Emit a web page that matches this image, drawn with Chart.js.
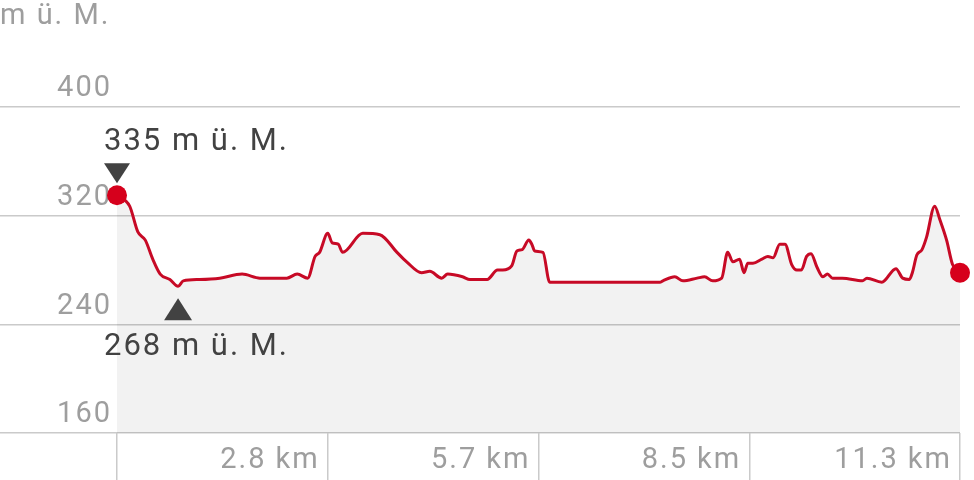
<!DOCTYPE html>
<html>
<head>
<meta charset="utf-8">
<script src="https://cdn.jsdelivr.net/npm/chart.js@4.4.0/dist/chart.umd.min.js"></script>
<style>
  html, body { margin: 0; padding: 0; background: #fff; }
  #profile { display: block; }
</style>
</head>
<body>
<canvas id="profile" width="974" height="480"></canvas>
<script>
// ELEVATION PROFILE DATA (km along the route, metres above sea level)
var distKm = [0, 0.17, 0.28, 0.38, 0.48, 0.58, 0.71, 0.82, 0.89, 1.11, 1.38, 1.68, 1.92, 2.28, 2.42, 2.56, 2.66, 2.72, 2.83, 2.89, 2.97, 3.03, 3.30, 3.53, 3.76, 3.89, 4.09, 4.20, 4.36, 4.44, 4.64, 4.74, 4.97, 5.11, 5.18, 5.30, 5.37, 5.44, 5.53, 5.57, 5.61, 5.72, 5.81, 7.29, 7.33, 7.49, 7.60, 7.79, 7.89, 8.00, 8.12, 8.20, 8.27, 8.36, 8.42, 8.47, 8.54, 8.66, 8.74, 8.81, 8.90, 8.97, 9.06, 9.13, 9.19, 9.26, 9.32, 9.40, 9.48, 9.54, 9.61, 9.74, 10.01, 10.07, 10.27, 10.46, 10.55, 10.64, 10.68, 10.74, 10.81, 10.87, 10.98, 11.05, 11.14, 11.22, 11.32];
var elevation = [335, 327, 308, 302, 288, 277, 273, 268, 272, 273, 274, 277, 274, 274, 277, 274, 290, 293, 307, 300, 299, 293, 307, 306, 293, 286, 278, 279, 274, 277, 275, 273, 273, 280, 280, 283, 294, 295, 302, 299, 294, 293, 271, 271, 272, 275, 272, 274, 275, 272, 274, 293, 286, 288, 278, 285, 285, 288, 290, 289, 299, 299, 284, 280, 280, 290, 292, 282, 275, 277, 274, 274, 272, 274, 271, 281, 274, 273, 278, 291, 295, 304, 327, 317, 302, 284, 278];

// AXIS TICKS
var yTicks = [160, 240, 320, 400];
var xTickValues = [0, 2.83, 5.66, 8.49, 11.32];
var xTickLabels = ['', '2.8 km', '5.7 km', '8.5 km', '11.3 km'];
var unitLabel = 'm ü. M.';

var FONT = 'Roboto';
var SPACING = '2px';
var TEXT_GREY = '#9e9e9e';
var TEXT_DARK = '#424242';
var GRID = '#cacaca';
var RED = '#c70a26';

var points = distKm.map(function(d, i) { return { x: d, y: elevation[i] }; });

// highest and lowest point for the markers
var maxIdx = 0, minIdx = 0;
for (var i = 1; i < elevation.length; i++) {
  if (elevation[i] > elevation[maxIdx]) maxIdx = i;
  if (elevation[i] < elevation[minIdx]) minIdx = i;
}

// wider letter spacing like the app's text
function setSpacing(chart) { chart.ctx.letterSpacing = SPACING; }

var extremesPlugin = {
  id: 'extremes',
  beforeUpdate: setSpacing,
  beforeLayout: setSpacing,
  beforeDraw: setSpacing,
  afterDatasetsDraw: function(chart) {
    var ctx = chart.ctx;
    var xs = chart.scales.x, ys = chart.scales.y;
    var leftLimit = chart.chartArea.left - 13;
    ctx.save();
    ctx.letterSpacing = SPACING;
    ctx.fillStyle = TEXT_DARK;
    ctx.font = '31px ' + FONT;
    ctx.textBaseline = 'alphabetic';
    ctx.textAlign = 'left';

    // highest: label above, triangle pointing down
    var px = xs.getPixelForValue(distKm[maxIdx]);
    var py = ys.getPixelForValue(elevation[maxIdx]);
    var tip = py - 12;
    ctx.beginPath();
    ctx.moveTo(px - 13, tip - 20);
    ctx.lineTo(px + 13, tip - 20);
    ctx.lineTo(px, tip);
    ctx.closePath();
    ctx.fill();
    var txt = elevation[maxIdx] + ' m ü. M.';
    var w = ctx.measureText(txt).width;
    ctx.fillText(txt, Math.max(px - w / 2, leftLimit), tip - 33);

    // lowest: triangle pointing up, label below
    px = xs.getPixelForValue(distKm[minIdx]);
    py = ys.getPixelForValue(elevation[minIdx]);
    tip = py + 12;
    ctx.beginPath();
    ctx.moveTo(px - 14, tip + 22);
    ctx.lineTo(px + 14, tip + 22);
    ctx.lineTo(px, tip);
    ctx.closePath();
    ctx.fill();
    txt = elevation[minIdx] + ' m ü. M.';
    w = ctx.measureText(txt).width;
    ctx.fillText(txt, Math.max(px - w / 2, leftLimit), tip + 57);

    // unit title top left
    ctx.fillStyle = TEXT_GREY;
    ctx.font = '29px ' + FONT;
    ctx.fillText(unitLabel, 0, 24);
    ctx.restore();
  }
};

new Chart(document.getElementById('profile').getContext('2d'), {
  type: 'line',
  data: {
    datasets: [{
      data: points,
      borderColor: RED,
      borderWidth: 3,
      cubicInterpolationMode: 'monotone',
      fill: 'start',
      backgroundColor: 'rgba(0,0,0,0.05)',
      clip: false,
      pointRadius: function(c) { return (c.dataIndex === 0 || c.dataIndex === distKm.length - 1) ? 10 : 0; },
      pointBackgroundColor: '#d6001c',
      pointBorderWidth: 0,
      pointHoverRadius: 0
    }]
  },
  options: {
    responsive: false,
    animation: false,
    events: [],
    layout: { padding: { top: 107, right: 14, left: 0, bottom: 0 } },
    plugins: { legend: { display: false }, tooltip: { enabled: false } },
    scales: {
      x: {
        type: 'linear',
        min: 0,
        max: 11.32,
        afterBuildTicks: function(s) { s.ticks = xTickValues.map(function(v) { return { value: v }; }); },
        afterFit: function(s) { s.height = 47; },
        border: { display: false },
        grid: { drawOnChartArea: false, drawTicks: true, tickLength: 47, color: GRID, lineWidth: 1.5 },
        ticks: {
          autoSkip: false,
          maxRotation: 0,
          align: 'end',
          labelOffset: -8,
          padding: -37,
          color: TEXT_GREY,
          font: { family: FONT, size: 29 },
          callback: function(v, idx) { return xTickLabels[idx]; }
        }
      },
      y: {
        min: 160,
        max: 400,
        afterBuildTicks: function(s) { s.ticks = yTicks.map(function(v) { return { value: v }; }); },
        afterFit: function(s) { s.width = 117; },
        border: { display: false },
        grid: { drawTicks: true, tickLength: 117, color: GRID, lineWidth: 1.5 },
        ticks: {
          padding: -112,
          labelOffset: -18,
          color: TEXT_GREY,
          font: { family: FONT, size: 29 }
        }
      }
    }
  },
  plugins: [extremesPlugin]
});
</script>
</body>
</html>
